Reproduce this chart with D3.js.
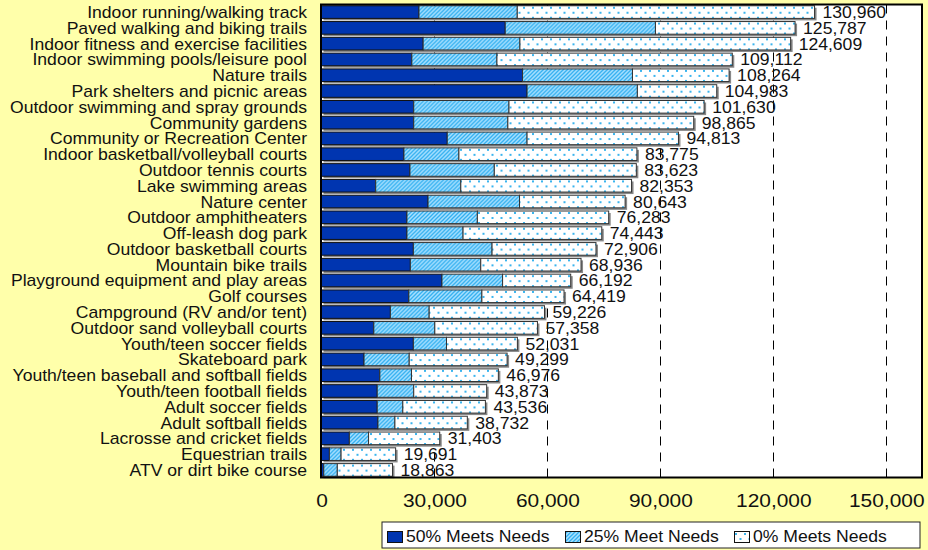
<!doctype html>
<title>Facility needs</title>
<script src="https://cdn.jsdelivr.net/npm/d3@7"></script>
<style>
body, html {
  margin: 0;
  background: #ffffaa;
}
svg text {
  font-family: "Liberation Sans", Arial, sans-serif;
  fill: #111;
}
</style>
<div id="chart"></div>
<script>
var width = 928;
var height = 550;

// categories top to bottom
var categories = [
  "Indoor running/walking track", "Paved walking and biking trails",
  "Indoor fitness and exercise facilities", "Indoor swimming pools/leisure pool",
  "Nature trails", "Park shelters and picnic areas",
  "Outdoor swimming and spray grounds", "Community gardens",
  "Community or Recreation Center", "Indoor basketball/volleyball courts",
  "Outdoor tennis courts", "Lake swimming areas", "Nature center",
  "Outdoor amphitheaters", "Off-leash dog park", "Outdoor basketball courts",
  "Mountain bike trails", "Playground equipment and play areas", "Golf courses",
  "Campground (RV and/or tent)", "Outdoor sand volleyball courts",
  "Youth/teen soccer fields", "Skateboard park",
  "Youth/teen baseball and softball fields", "Youth/teen football fields",
  "Adult soccer fields", "Adult softball fields", "Lacrosse and cricket fields",
  "Equestrian trails", "ATV or dirt bike course"
];
// households whose need is 50% met
var meets50 = [25900, 48800, 27000, 24000, 53400, 54600, 24500, 24500, 33400, 21900,
  23500, 14400, 28300, 22700, 22700, 24400, 23600, 32000, 23200, 18300,
  13900, 24400, 11300, 15500, 14800, 14800, 15000, 7400, 2100, 600];
// households whose need is 25% met
var meets25 = [26100, 39900, 25700, 22600, 29200, 29300, 25300, 25000, 21200, 14600,
  22400, 22600, 24300, 18700, 14900, 20900, 18700, 16100, 19400, 10300,
  16200, 8800, 12000, 8400, 9700, 6800, 4500, 5100, 3100, 3600];
// total households with a need
var totals = [130960, 125787, 124609, 109112, 108264, 104983, 101630, 98865, 94813, 83775,
  83623, 82353, 80643, 76283, 74443, 72906, 68936, 66192, 64419, 59226,
  57358, 52031, 49299, 46976, 43873, 43536, 38732, 31403, 19691, 18863];
var xTicks = [0, 30000, 60000, 90000, 120000, 150000];
var seriesNames = ["50% Meets Needs", "25% Meet Needs", "0% Meets Needs"];

var rows = categories.map(function(c, i) {
  var a = meets50[i], b = meets25[i];
  return {name: c, segs: [[0, a], [a, a + b], [a + b, totals[i]]], total: totals[i]};
});

var plot = {left: 321, top: 4.5, right: 922, bottom: 477.5};
var stretch = 1.1; // text in the original is drawn a bit wide

var x = d3.scaleLinear().domain([0, 159500]).range([plot.left + 0.5, plot.right]);
var y = d3.scaleBand().domain(categories).range([plot.top, plot.bottom])
  .paddingInner(0.2).paddingOuter(0.08);
var fmt = d3.format(",");

var svg = d3.select("#chart").append("svg")
  .attr("width", width).attr("height", height);

// fill patterns
var defs = svg.append("defs");
var hatch = defs.append("pattern").attr("id", "hatch")
  .attr("patternUnits", "userSpaceOnUse").attr("width", 4).attr("height", 4);
hatch.append("rect").attr("width", 4).attr("height", 4).attr("fill", "#a8e0ff");
hatch.append("path").attr("d", "M-1,1 l2,-2 M0,4 l4,-4 M3,5 l2,-2")
  .attr("stroke", "#33b0f0").attr("stroke-width", 1.3);

var dots = defs.append("pattern").attr("id", "dots")
  .attr("patternUnits", "userSpaceOnUse").attr("width", 9).attr("height", 10);
dots.append("rect").attr("width", 9).attr("height", 10).attr("fill", "#fff");
dots.append("rect").attr("x", 1).attr("y", 1).attr("width", 2).attr("height", 2).attr("fill", "#3ab4ee");
dots.append("rect").attr("x", 5.5).attr("y", 6).attr("width", 2).attr("height", 2).attr("fill", "#3ab4ee");

var fills = ["#0035b0", "url(#hatch)", "url(#dots)"];

// plot area
svg.append("rect")
  .attr("x", plot.left).attr("y", plot.top)
  .attr("width", plot.right - plot.left).attr("height", plot.bottom - plot.top)
  .attr("fill", "#fff");

// dashed gridlines
svg.append("g").selectAll("line")
  .data(xTicks.filter(function(d) { return d > 0; }))
  .join("line")
  .attr("x1", d => Math.round(x(d)) + 0.5).attr("x2", d => Math.round(x(d)) + 0.5)
  .attr("y1", plot.top).attr("y2", plot.bottom)
  .attr("stroke", "#000").attr("stroke-dasharray", "9,7");

// bars
var bar = svg.append("g").selectAll("g")
  .data(rows)
  .join("g")
  .attr("transform", d => "translate(0," + y(d.name) + ")");

// shadow
bar.append("rect")
  .attr("x", x(0) + 2).attr("y", 2)
  .attr("width", d => x(d.total) - x(0)).attr("height", y.bandwidth())
  .attr("fill", "#888");

bar.selectAll("rect.seg")
  .data(d => d.segs)
  .join("rect")
  .attr("class", "seg")
  .attr("x", d => x(d[0])).attr("y", 0)
  .attr("width", d => Math.max(0, x(d[1]) - x(d[0]))).attr("height", y.bandwidth())
  .attr("fill", (d, i) => fills[i])
  .attr("stroke", (d, i) => i == 0 ? "#111" : "#333")
  .attr("stroke-width", 1);

// value labels
bar.append("text")
  .attr("transform", d => "translate(" + (x(d.total) + 8) + "," + (y.bandwidth() / 2 + 6) + ") scale(" + stretch + ",1)")
  .attr("font-size", 16)
  .text(d => fmt(d.total));

// frame
svg.append("rect")
  .attr("x", plot.left).attr("y", plot.top)
  .attr("width", plot.right - plot.left).attr("height", plot.bottom - plot.top)
  .attr("fill", "none").attr("stroke", "#000").attr("stroke-width", 2);

// category axis
var yAxis = svg.append("g")
  .attr("transform", "translate(" + plot.left + ",0)")
  .call(d3.axisLeft(y).tickSize(0).tickPadding(0));
yAxis.select(".domain").remove();
yAxis.selectAll("text")
  .attr("x", 0).attr("dy", null).attr("y", 6)
  .attr("transform", "translate(-14,0) scale(" + stretch + ",1)")
  .attr("font-size", 16).attr("font-family", null).attr("fill", "#111");

// value axis
var xAxis = svg.append("g")
  .attr("transform", "translate(0," + plot.bottom + ")")
  .call(d3.axisBottom(x).tickValues(xTicks).tickFormat(fmt).tickSize(0));
xAxis.select(".domain").remove();
xAxis.selectAll("text")
  .attr("dy", null).attr("y", 30)
  .attr("transform", "scale(" + stretch + ",1)")
  .attr("font-size", 19).attr("font-family", null).attr("fill", "#111");

// legend
var legend = svg.append("g").attr("transform", "translate(382,522)");
legend.append("rect").attr("width", 538).attr("height", 26)
  .attr("fill", "#fff").attr("stroke", "#222");
var itemX = [5, 183, 352];
var item = legend.selectAll("g.item")
  .data(seriesNames)
  .join("g")
  .attr("class", "item")
  .attr("transform", (d, i) => "translate(" + itemX[i] + ",0)");
item.append("rect")
  .attr("x", 0.5).attr("y", 9.5).attr("width", 15).attr("height", 11)
  .attr("fill", (d, i) => fills[i]).attr("stroke", "#111");
item.append("text")
  .attr("transform", "translate(19,20) scale(" + stretch + ",1)")
  .attr("font-size", 16)
  .text(d => d);
</script>
